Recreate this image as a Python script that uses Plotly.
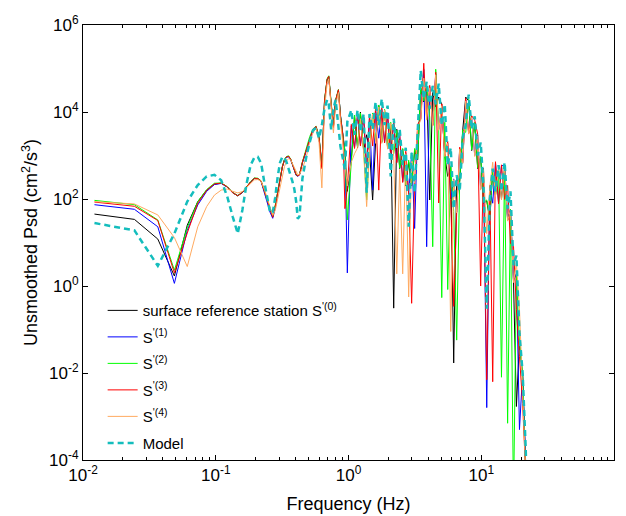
import plotly.graph_objects as go

# ---------------- data ----------------
# low-frequency bins (k * df, df ~ 0.0122 Hz)
F_LOW = [0.0122, 0.0244, 0.0366, 0.0488, 0.061, 0.0732, 0.0854, 0.0977, 0.1099, 0.1221,
         0.1343, 0.1465, 0.1587, 0.1709, 0.1831, 0.1953, 0.2075, 0.2197, 0.2319, 0.2441,
         0.2563, 0.2686, 0.2808, 0.293, 0.3052, 0.3174, 0.3296, 0.3418, 0.354, 0.3662,
         0.3784, 0.3906, 0.4028, 0.415, 0.4272]
F_MID = [0.45, 0.48, 0.51, 0.54, 0.57, 0.60, 0.63, 0.66, 0.69, 0.71, 0.74, 0.77, 0.80,
         0.84, 0.87, 0.91, 0.94]
F_HIGH = [0.98, 1.05, 1.11, 1.17, 1.23, 1.30, 1.37, 1.44, 1.52, 1.60, 1.69, 1.78, 1.87,
          1.97, 2.08, 2.19, 2.31, 2.43, 2.56, 2.70, 2.84, 2.99, 3.15, 3.32, 3.50, 3.69,
          3.88, 4.09, 4.31, 4.54, 4.78, 5.04, 5.31, 5.59, 5.89, 6.20, 6.53, 6.88, 7.25,
          7.64, 8.04, 8.47, 8.93, 9.40, 9.90, 10.4, 11.0, 11.6, 12.2, 12.8, 13.5, 14.2,
          15.0, 15.8, 16.6, 17.5, 18.4, 19.4, 20.5, 21.6, 22.7]
FREQ = F_LOW + F_MID + F_HIGH

S0 = ([45, 34, 12, 1.7, 25, 87, 160, 220, 230, 190, 140, 118, 140, 190, 245, 295, 290, 255,
       150, 90, 55, 39, 70, 150, 300, 550, 800, 930, 950, 820, 620, 450, 360, 340, 360]
      + [700, 1300, 2600, 4000, 4600, 2500, 550, 18000, 55000, 65000, 15000, 4600, 18000,
         32000, 8000, 2700, 1200]
      + [150, 800, 8000, 1500, 10000, 1300, 3000, 1300, 95, 2000, 14000, 2000, 11000, 1500,
         5000, 0.31, 4000, 500, 1400, 200, 700, 200, 1300, 800, 35000, 17000, 38000, 95,
         28000, 13000, 22000, 15000, 1000, 330, 550, 0.017, 280, 250, 3800, 22000, 18000,
         1300, 5500, 500, 900, 80, 90, 33, 450, 120, 480, 100, 550, 33, 55, 1.3, 0.0017,
         0.05, 0.009, 3e-5, 1e-6])

S1 = ([74, 58, 23, 1.15, 19, 73, 150, 215, 228, 188, 138, 120, 142, 192, 248, 298, 292, 250,
       145, 85, 50, 36, 62, 140, 290, 540, 790, 920, 940, 810, 610, 440, 350, 335, 355]
      + [680, 1250, 2500, 3900, 4500, 2600, 600, 17000, 54000, 64000, 16000, 4800, 18500,
         31000, 8500, 2600, 1300]
      + [2, 4800, 1500, 8800, 1700, 7800, 500, 7800, 160, 11500, 2500, 11500, 2000, 8500,
         1000, 5800, 700, 2900, 250, 1150, 130, 1150, 21, 4800, 7000, 95000, 8, 38000,
         5000, 75000, 4000, 14000, 1000, 1900, 100, 290, 50, 1400, 700, 19000, 3300, 7600,
         1000, 2900, 170, 480, 0.0016, 190, 80, 680, 80, 580, 600, 33, 58, 1.3, 1.9,
         0.0005, 0.01, 6e-5, 1e-6])

S2 = ([93, 74, 33, 2.3, 22, 87, 165, 230, 235, 192, 140, 120, 145, 195, 250, 305, 300, 262,
       155, 95, 58, 40, 72, 155, 310, 560, 820, 950, 980, 840, 630, 460, 365, 345, 365]
      + [720, 1350, 2700, 4100, 4700, 2700, 580, 19000, 58000, 68000, 15500, 4500, 19000,
         33000, 8200, 2800, 1250]
      + [33, 900, 8500, 1600, 9500, 1400, 95, 1400, 9500, 2100, 14500, 2100, 11500, 1600,
         5800, 1100, 3800, 520, 1450, 210, 780, 210, 1450, 850, 38000, 18000, 39000, 7500,
         8, 96000, 4200, 0.54, 5800, 0.83, 580, 52, 0.057, 260, 3900, 3400, 19500, 1350,
         5800, 520, 950, 85, 95, 35, 480, 125, 490, 0.008, 580, 0.0007, 58, 1e-5, 1.9,
         0.05, 0.0095, 4e-5, 1e-6])

S3 = ([85, 68, 32, 2.0, 16.5, 80, 158, 222, 232, 190, 139, 119, 143, 193, 247, 300, 295, 258,
       152, 92, 56, 38, 66, 145, 295, 545, 800, 935, 960, 830, 625, 455, 362, 340, 360]
      + [710, 1320, 2650, 4050, 4650, 2550, 500, 18500, 56000, 66000, 15200, 4400, 18800,
         32500, 7800, 2650, 60]
      + [180, 5200, 1450, 9200, 1650, 8200, 480, 8200, 1650, 12500, 160, 12500, 1950, 9200,
         950, 6200, 680, 3100, 240, 1250, 125, 0.4, 240, 5200, 6800, 132000, 6800, 41000,
         4900, 82000, 81, 15500, 980, 2100, 98, 0.34, 48, 1550, 680, 20500, 3200, 8200,
         6500, 3100, 1.0, 510, 0.007, 205, 0.0063, 720, 78, 610, 98, 205, 9.5, 8.2, 0.29,
         0.024, 0.002, 5e-5, 1e-6])

S4 = ([87, 77, 43, 13, 2.8, 23, 67, 123, 160, 170, 150, 138, 148, 185, 235, 275, 280, 255,
       170, 105, 62, 42, 55, 100, 190, 350, 560, 750, 850, 800, 650, 500, 400, 360, 370]
      + [500, 900, 2000, 3300, 4300, 2000, 180, 12000, 45000, 58000, 13000, 3300, 14000,
         28000, 6000, 1500, 700]
      + [200, 700, 1100, 1500, 7000, 1200, 67, 1200, 9000, 1900, 13000, 1900, 11000, 1400,
         5500, 950, 1.9, 480, 1.9, 1100, 0.56, 1100, 230, 4500, 6500, 60000, 6500, 36000,
         4800, 72000, 3800, 14000, 950, 1900, 0.09, 280, 48, 1400, 650, 18000, 3100, 7500,
         950, 2800, 160, 470, 16, 190, 700, 115, 480, 95, 560, 31, 56, 1.2, 3.4, 0.3,
         0.002, 6e-5, 1e-6])

MODEL = ([28, 19, 2.9, 16, 87, 210, 330, 360, 270, 113, 39, 16, 56, 230, 600, 900, 930, 660,
          250, 110, 50, 48, 110, 330, 700, 930, 880, 700, 500, 350, 250, 170, 90, 35, 40]
         + [300, 900, 2000, 3800, 4300, 2500, 5000, 12000, 19000, 15000, 4000, 12000, 19000,
            5000, 1600, 800, 465]
         + [6000, 11000, 3000, 11000, 3500, 9000, 140, 9000, 4000, 17000, 5000, 20000, 5000,
            14000, 330, 7000, 1500, 4000, 600, 1500, 23, 1200, 140, 4000, 90000, 20000, 50000,
            12000, 40000, 15000, 45000, 5000, 15000, 600, 1500, 60, 350, 150, 2500, 5000,
            25000, 4000, 8000, 1000, 2000, 200, 0.3, 100, 500, 150, 600, 150, 700, 60, 150,
            3, 5, 0.08, 0.01, 2e-4, 1e-6])

NAMES = ["surface reference station S<sup>'(0)</sup>", "S<sup>'(1)</sup>",
         "S<sup>'(2)</sup>", "S<sup>'(3)</sup>", "S<sup>'(4)</sup>", "Model"]
COLORS = ["#000000", "#0000FF", "#00FF00", "#FF0000", "#FFAA60", "#14BDBD"]

X_TICKS = [1e-2, 1e-1, 1, 1e1, 1e2]
X_TICKTEXT = ["10<sup>-2</sup>", "10<sup>-1</sup>", "10<sup>0</sup>", "10<sup>1</sup>", "10<sup>2</sup>"]
Y_TICKS = [1e-4, 1e-2, 1, 1e2, 1e4, 1e6]
Y_TICKTEXT = ["10<sup>-4</sup>", "10<sup>-2</sup>", "10<sup>0</sup>", "10<sup>2</sup>",
              "10<sup>4</sup>", "10<sup>6</sup>"]

# ---------------- figure ----------------
fig = go.Figure()
series = [S0, S1, S2, S3, S4]
for i, (ys, name, col) in enumerate(zip(series, NAMES[:5], COLORS[:5])):
    fig.add_trace(go.Scatter(x=FREQ, y=ys, mode="lines", name=name, legendgroup=f"g{i}",
                             line=dict(color=col, width=1)))
fig.add_trace(go.Scatter(x=FREQ, y=MODEL, mode="lines", name=NAMES[5], legendgroup="g5",
                         line=dict(color=COLORS[5], width=2.5, dash="6px,4px")))

minor_x = [m * 10.0 ** e for e in range(-2, 2) for m in range(2, 10)]

fig.update_layout(
    width=626, height=516,
    margin=dict(l=83, r=12, t=25, b=56, autoexpand=False),
    paper_bgcolor="white", plot_bgcolor="white",
    font=dict(family="Arial, Liberation Sans, sans-serif", color="black", size=15),
    legend=dict(x=0.037, y=0.002, xanchor="left", yanchor="bottom",
                bgcolor="rgba(0,0,0,0)", font=dict(size=15),
                traceorder="grouped", tracegroupgap=4),
)
fig.update_xaxes(type="log", range=[-2, 2], tickmode="array", tickvals=X_TICKS,
                 ticktext=X_TICKTEXT, ticks="inside", ticklen=5, tickcolor="black",
                 showline=True, linecolor="black", linewidth=1, mirror="ticks",
                 showgrid=False, zeroline=False, tickfont=dict(size=17), automargin=False,
                 minor=dict(tickmode="array", tickvals=minor_x, ticks="inside",
                            ticklen=3, tickcolor="black", showgrid=False),
                 title=dict(text="Frequency (Hz)", font=dict(size=18), standoff=12))
fig.update_yaxes(type="log", range=[-4, 6], tickmode="array", tickvals=Y_TICKS,
                 ticktext=Y_TICKTEXT, ticks="inside", ticklen=5, tickcolor="black",
                 showline=True, linecolor="black", linewidth=1, mirror="ticks",
                 showgrid=False, zeroline=False, tickfont=dict(size=17), automargin=False,
                 title=dict(text="Unsmoothed Psd (cm<sup>2</sup>/s<sup>3</sup>)",
                            font=dict(size=18), standoff=6))

fig.write_html("out.html")
